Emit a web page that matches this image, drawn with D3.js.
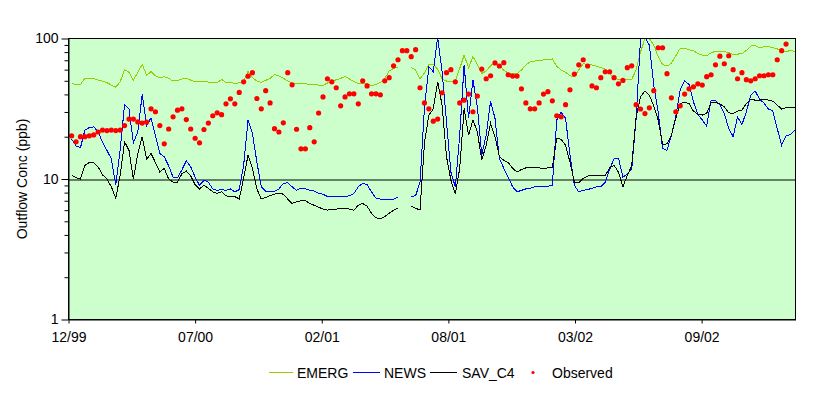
<!DOCTYPE html>
<html>
<head>
<meta charset="utf-8">
<script src="https://cdn.jsdelivr.net/npm/d3@7"></script>
<style>
  body { margin: 0; background: #fff; }
  text { font-family: "Liberation Sans", Arial, sans-serif; font-size: 14px; fill: #000; }
</style>
</head>
<body>
<svg id="chart"></svg>
<script>
// Weekly samples, first one on 2 Jan 2000
var firstDate = new Date(Date.UTC(2000, 0, 2));
var axisStart = new Date(Date.UTC(1999, 11, 28));
var axisDays = 1154, tickStepDays = 201;

var seriesNames = ["EMERG", "NEWS", "SAV_C4", "Observed"];

var emerg = [
  47.9, 47.1, 47.1, 52.0, 51.5, 52.0, 50.6, 49.8, 48.5, 46.6,
  45.1, 49.2, 60.0, 57.4, 50.6, 57.4, 65.4, 54.9, 58.0, 54.3,
  52.6, 53.5, 52.0, 49.8, 50.3, 51.5, 52.0, 50.6, 49.2, 49.2,
  49.8, 48.9, 48.9, 48.5, 51.2, 48.5, 48.9, 47.6, 48.5, 49.8,
  58.3, 52.6, 49.8, 48.7, 50.3, 52.0, 55.5, 54.3, 52.0, 50.0,
  47.9, 47.9, 47.9, 47.6, 47.1, 46.9, 46.6, 46.4, 48.2, 49.2,
  50.9, 52.0, 53.7, 51.5, 49.5, 47.9, 47.9, 47.9, 46.1, 47.1,
  48.7, 52.0, 58.6, 61.3, 62.6, null, null, 62.3, 59.7, 51.5,
  56.8, 65.0, 65.4, 60.6, 51.5, 49.8, 49.2, 49.8, 61.3, 76.2,
  62.0, 74.2, 65.4, 56.5, 58.6, 64.0, 67.6, 64.7, 59.3, 56.8,
  56.2, 56.2, 59.7, 64.7, 68.4, 69.1, 69.5, 70.3, 71.1, 71.5,
  63.4, 59.7, 57.4, 54.3, 53.5, 59.7, 66.1, 65.4, 64.7, 63.7,
  62.0, 60.6, 56.5, 52.0, 51.2, 51.2, 51.2, 51.2, 59.7, 80.0,
  100, 100, 89.9, 74.2, 65.4, 63.7, 66.5, 75.4, 85.1, 85.1,
  83.2, 81.9, 78.1, 76.2, 75.4, 79.2, 80.9, 80.9, 80.9, 79.2,
  77.0, 77.4, 78.1, 82.2, 88.5, 88.9, 86.0, 87.4, 87.4, 86.0,
  84.3, 80.9, 80.5, 82.2, 80.9
];

var news = [
  19.2, 17.2, 16.7, 22.3, 23.2, 23.5, 21.7, 18.2, 16.0, 13.9,
  9.1, 16.0, 34.0, 31.5, 18.1, 21.7, 40.0, 23.9, 27.3, 20.3,
  15.2, 14.4, 12.4, 10.3, 10.2, 11.6, 13.5, 12.2, 10.3, 9.0,
  9.8, 9.5, 8.5, 8.3, 8.4, 8.3, 8.5, 8.1, 8.4, 12.5,
  26.3, 21.1, 13.2, 8.8, 8.2, 8.1, 8.2, 8.5, 9.3, 9.4,
  8.8, 8.3, 8.6, 8.5, 8.3, 8.2, 7.9, 7.8, 7.5, 7.5,
  7.5, 7.5, 7.5, 7.6, 7.9, 8.8, 9.3, 9.1, 8.1, 7.3,
  7.2, 7.2, 7.2, 7.2, 7.4, null, null, 7.5, 7.6, 9.5,
  32.0, 63.0, 58.0, 102, 58.0, 25.5, 11.2, 8.8, 20.5, 65.0,
  27.0, 50.6, 32.7, 14.8, 20.5, 35.8, 27.0, 14.0, 11.9, 10.3,
  8.8, 8.1, 8.3, 8.5, 8.6, 8.8, 8.8, 8.9, 8.9, 9.0,
  26.3, 29.8, 27.0, 14.8, 9.0, 8.1, 8.3, 8.4, 8.6, 8.8,
  8.8, 9.5, 11.7, 14.0, 14.1, 10.3, 10.9, 11.7, 27.0, 100,
  102, 89.9, 46.6, 30.1, 16.5, 16.0, 20.5, 27.7, 43.0, 49.8,
  47.1, 35.4, 28.9, 26.3, 23.8, 36.4, 36.4, 33.6, 29.3, 22.9,
  20.0, 27.7, 24.4, 30.1, 39.5, 42.3, 37.0, 34.7, 31.5, 30.6,
  22.9, 17.4, 20.3, 20.7, 22.3
];

var savC4 = [
  10.7, 10.2, 10.0, 12.5, 13.1, 13.1, 12.2, 10.7, 10.0, 8.8,
  7.3, 10.6, 18.4, 16.0, 10.0, 15.2, 20.0, 13.8, 15.2, 13.1,
  11.2, 11.9, 10.0, 9.5, 9.5, 10.9, 11.4, 10.5, 9.1, 8.5,
  9.0, 8.6, 8.1, 7.9, 8.1, 7.6, 7.5, 7.5, 7.2, 10.1,
  14.8, 11.9, 8.5, 7.2, 7.4, 7.6, 7.8, 7.9, 7.8, 7.2,
  6.7, 6.9, 7.0, 7.0, 6.7, 6.5, 6.3, 6.1, 6.0, 6.1,
  6.1, 6.2, 6.2, 6.1, 6.0, 6.5, 6.7, 6.4, 5.7, 5.3,
  5.2, 5.4, 5.7, 6.0, 6.2, null, null, 6.4, 6.2, 6.0,
  18.0, 28.5, 31.5, 49.2, 33.6, 14.4, 9.8, 7.8, 11.9, 31.8,
  20.5, 26.3, 21.7, 13.6, 17.4, 24.9, 20.0, 14.4, 13.6, 13.1,
  11.9, 11.2, 11.7, 12.0, 12.0, 12.0, 12.0, 11.9, 12.0, 12.1,
  19.4, 19.2, 17.4, 13.2, 9.5, 9.4, 10.1, 10.5, 10.6, 10.6,
  10.5, 10.6, 12.0, 12.5, 11.2, 8.8, 10.6, 12.4, 27.7, 38.5,
  42.2, 39.5, 33.0, 26.3, 17.6, 17.8, 20.5, 27.0, 34.5, 35.0,
  34.5, 30.4, 29.0, 28.5, 29.3, 35.0, 35.0, 34.2, 32.7, 29.6,
  29.3, 30.4, 31.0, 34.5, 37.0, 36.4, 36.4, 37.0, 36.4, 35.8,
  33.6, 31.5, 32.1, 32.4, 32.4
];

var observed = [
  20.3, 18.4, 20.0, 20.0, 20.3, 20.6, 21.6, 22.3, 22.1, 22.3,
  22.1, 22.3, 24.0, 26.7, 26.7, 25.5, 25.0, 25.4, 31.6, 30.1,
  24.0, 17.8, 22.7, 27.7, 30.9, 31.6, 26.5, 22.7, 19.5, 18.1,
  22.5, 25.0, 28.2, 29.6, 28.7, 34.3, 37.2, 34.3, 41.3, 49.2,
  53.9, 57.1, 37.4, 31.6, 42.5, 34.8, 22.8, 21.6, 25.1, 57.1,
  46.8, 22.6, 16.4, 16.4, 23.2, 18.4, 29.5, 38.4, 51.7, 49.2,
  44.6, 33.2, 38.4, 40.4, 40.4, 34.3, 50.0, 46.0, 40.4, 40.4,
  39.7, 50.0, 52.6, 63.9, 70.6, 81.9, 81.9, 74.2, 83.2, 44.6,
  34.8, 31.6, 25.8, 26.7, 41.1, 57.1, 60.0, 49.2, 34.8, 36.4,
  40.2, 30.1, 38.9, 60.6, 51.7, 54.3, 67.0, 63.7, 67.3, 55.2,
  54.0, 54.0, 43.8, 34.8, 31.6, 31.6, 34.8, 40.2, 41.8, 36.0,
  28.2, 27.7, 33.8, 43.1, 55.8, 65.0, 70.6, 63.7, 46.0, 44.6,
  52.6, 58.0, 58.0, 52.6, 47.6, 50.3, 62.0, 63.9, 33.8, 31.5,
  29.2, 32.1, 42.5, 85.9, 85.9, 56.2, 37.8, 30.1, 33.2, 40.2,
  43.8, 45.3, 47.6, 46.6, 53.5, 55.2, 65.0, 74.9, 66.1, 75.4,
  60.0, 51.7, 57.1, 50.9, 50.0, 51.7, 54.3, 54.3, 55.2, 55.2,
  70.6, 81.9, 91.2, null, null
];

var yMajor = [1, 10, 100];
var yMinor = [2, 3, 4, 5, 6, 7, 8, 9, 20, 30, 40, 50, 60, 70, 80, 90];

var width = 829, height = 396;
var margin = { top: 38.5, right: 33.5, bottom: 76.5, left: 68.5 };
var plotW = width - margin.left - margin.right;
var plotH = height - margin.top - margin.bottom;

var svg = d3.select("#chart")
    .attr("width", width)
    .attr("height", height);

var g = svg.append("g")
    .attr("transform", "translate(" + margin.left + "," + margin.top + ")");

var x = d3.scaleUtc()
    .domain([axisStart, d3.utcDay.offset(axisStart, axisDays)])
    .range([0, plotW]);

var y = d3.scaleLog()
    .domain([1, 100])
    .range([plotH, 0]);

function dateAt(i) { return d3.utcDay.offset(firstDate, 7 * i); }

// plot background
g.append("rect")
    .attr("width", plotW)
    .attr("height", plotH)
    .attr("fill", "#ccffcc");

g.append("clipPath").attr("id", "plotClip")
    .append("rect").attr("width", plotW).attr("height", plotH);

// gridline at 10
g.append("line")
    .attr("x1", 0).attr("x2", plotW)
    .attr("y1", Math.round(y(10)) + 0.5).attr("y2", Math.round(y(10)) + 0.5)
    .attr("stroke", "#000");

var line = d3.line()
    .defined(d => d != null)
    .x((d, i) => x(dateAt(i)))
    .y(d => y(d));

var lines = [
    { values: emerg, color: "#99cc00" },
    { values: news, color: "#0000ff" },
    { values: savC4, color: "#000000" }
];

var plot = g.append("g").attr("clip-path", "url(#plotClip)");

plot.selectAll(".series")
    .data(lines)
    .enter().append("path")
    .attr("class", "series")
    .attr("d", d => line(d.values))
    .attr("fill", "none")
    .attr("stroke", d => d.color)
    .attr("stroke-width", 1)
    .attr("shape-rendering", "crispEdges");

plot.selectAll(".obs")
    .data(observed.map((v, i) => ({ v: v, i: i })).filter(d => d.v != null))
    .enter().append("circle")
    .attr("class", "obs")
    .attr("cx", d => x(dateAt(d.i)))
    .attr("cy", d => y(d.v))
    .attr("r", 2.6)
    .attr("fill", "#ff0000");

// plot border
g.append("rect")
    .attr("width", plotW)
    .attr("height", plotH)
    .attr("fill", "none")
    .attr("stroke", "#000");

// y axis
var yAxis = g.append("g")
    .call(d3.axisLeft(y).tickValues(yMajor).tickFormat(d3.format("d")).tickSize(7).tickSizeOuter(0).tickPadding(3));
yAxis.select(".domain").attr("stroke", "#000");
yAxis.selectAll("text").style("font-size", "14px").attr("fill", "#000");

g.append("g")
    .call(d3.axisLeft(y).tickValues(yMinor).tickFormat("").tickSize(4).tickSizeOuter(0))
    .select(".domain").remove();

// x axis
var tickDates = d3.range(0, 6).map(k => d3.utcDay.offset(axisStart, k * tickStepDays));
var xAxis = g.append("g")
    .attr("transform", "translate(0," + plotH + ")")
    .call(d3.axisBottom(x).tickValues(tickDates).tickFormat(d3.utcFormat("%m/%y")).tickSize(4).tickSizeOuter(0).tickPadding(9));
xAxis.selectAll("text").style("font-size", "14px").attr("fill", "#000");

// y title
svg.append("text")
    .attr("transform", "translate(27," + (margin.top + plotH / 2) + ") rotate(-90)")
    .attr("text-anchor", "middle")
    .text("Outflow Conc (ppb)");

// legend
var legendY = 372.5;
var legendItems = [
    { name: seriesNames[0], color: "#99cc00", x0: 269, x1: 293, tx: 297 },
    { name: seriesNames[1], color: "#0000ff", x0: 353, x1: 380, tx: 384 },
    { name: seriesNames[2], color: "#000000", x0: 430, x1: 457, tx: 462 }
];
var legend = svg.append("g");
legendItems.forEach(function(d) {
    legend.append("line")
        .attr("x1", d.x0).attr("x2", d.x1)
        .attr("y1", legendY).attr("y2", legendY)
        .attr("stroke", d.color);
    legend.append("text")
        .attr("x", d.tx).attr("y", legendY + 5.5)
        .text(d.name);
});
legend.append("circle")
    .attr("cx", 533).attr("cy", legendY)
    .attr("r", 1.6)
    .attr("fill", "#ff0000");
legend.append("text")
    .attr("x", 552).attr("y", legendY + 5.5)
    .text(seriesNames[3]);
</script>
</body>
</html>
